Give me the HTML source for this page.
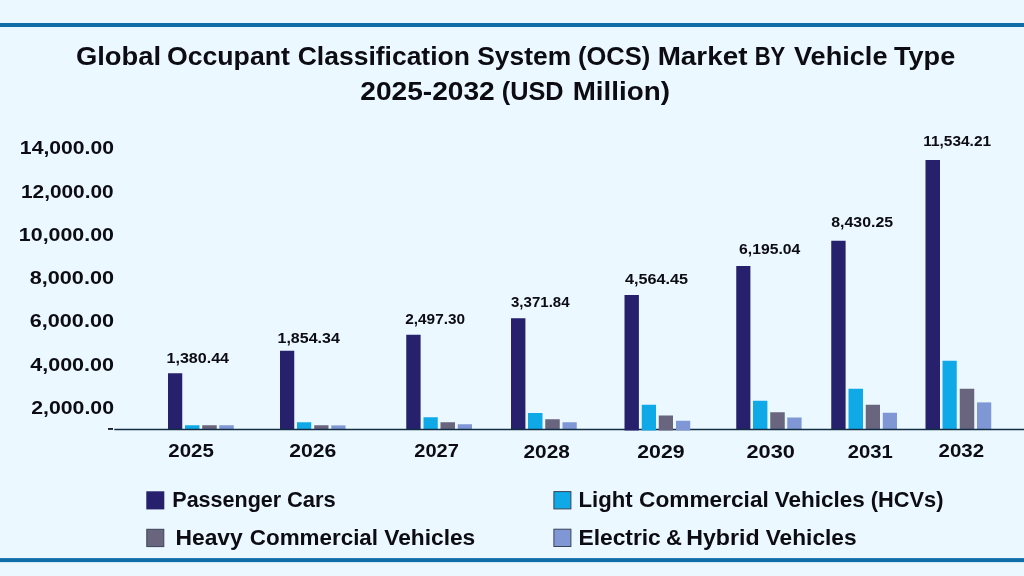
<!DOCTYPE html>
<html lang="en"><head><meta charset="utf-8"><title>OCS Market by Vehicle Type</title>
<style>
html,body{margin:0;padding:0;background:#ebf8ff;}
body{width:1024px;height:576px;overflow:hidden;}
svg{display:block;will-change:transform;}
text{font-family:"Liberation Sans",sans-serif;font-weight:bold;fill:#0c0c12;}
</style></head>
<body>
<svg width="1024" height="576" viewBox="0 0 1024 576">
<rect x="0" y="0" width="1024" height="576" fill="#ebf8ff"/>
<rect x="0" y="23.0" width="1024" height="4" fill="#0f6ea8"/>
<rect x="0" y="558.1" width="1024" height="4" fill="#0f6ea8"/>
<rect x="168.00" y="373.25" width="14.25" height="56.05" fill="#26206d"/>
<rect x="185.00" y="425.25" width="14.50" height="4.05" fill="#10a9e8"/>
<rect x="202.25" y="425.25" width="14.50" height="4.05" fill="#69657e"/>
<rect x="219.25" y="425.25" width="14.50" height="4.05" fill="#7f98d5"/>
<rect x="280.00" y="350.75" width="14.25" height="78.55" fill="#26206d"/>
<rect x="297.00" y="422.25" width="14.25" height="7.05" fill="#10a9e8"/>
<rect x="314.25" y="425.25" width="14.25" height="4.05" fill="#69657e"/>
<rect x="331.25" y="425.40" width="14.25" height="3.90" fill="#7f98d5"/>
<rect x="406.25" y="334.75" width="14.35" height="94.55" fill="#26206d"/>
<rect x="423.50" y="417.25" width="14.25" height="12.05" fill="#10a9e8"/>
<rect x="440.50" y="422.25" width="14.50" height="7.05" fill="#69657e"/>
<rect x="457.75" y="424.25" width="14.25" height="5.05" fill="#7f98d5"/>
<rect x="511.00" y="318.25" width="14.40" height="111.05" fill="#26206d"/>
<rect x="528.00" y="413.00" width="14.50" height="16.30" fill="#10a9e8"/>
<rect x="545.25" y="419.25" width="14.50" height="10.05" fill="#69657e"/>
<rect x="562.50" y="422.25" width="14.25" height="7.05" fill="#7f98d5"/>
<rect x="736.25" y="266.00" width="14.15" height="163.30" fill="#26206d"/>
<rect x="753.00" y="400.75" width="14.40" height="28.55" fill="#10a9e8"/>
<rect x="770.25" y="412.25" width="14.50" height="17.05" fill="#69657e"/>
<rect x="787.25" y="417.50" width="14.35" height="11.80" fill="#7f98d5"/>
<rect x="831.25" y="240.75" width="14.35" height="188.55" fill="#26206d"/>
<rect x="848.50" y="388.75" width="14.50" height="40.55" fill="#10a9e8"/>
<rect x="865.75" y="404.75" width="14.25" height="24.55" fill="#69657e"/>
<rect x="882.75" y="412.75" width="14.25" height="16.55" fill="#7f98d5"/>
<rect x="925.50" y="160.00" width="14.50" height="269.30" fill="#26206d"/>
<rect x="942.50" y="360.75" width="14.25" height="68.55" fill="#10a9e8"/>
<rect x="959.75" y="388.75" width="14.50" height="40.55" fill="#69657e"/>
<rect x="977.00" y="402.40" width="14.25" height="26.90" fill="#7f98d5"/>
<rect x="114.3" y="428.75" width="909.7" height="1.5" fill="#132d44"/>
<rect x="108" y="428.1" width="5" height="1.7" fill="#0c0c12"/>
<rect x="624.50" y="295.00" width="14.40" height="135.50" fill="#26206d"/>
<rect x="641.75" y="404.75" width="14.25" height="25.75" fill="#10a9e8"/>
<rect x="658.75" y="415.50" width="14.25" height="15.00" fill="#69657e"/>
<rect x="676.00" y="420.75" width="14.25" height="9.75" fill="#7f98d5"/>
<rect x="146.3" y="491.3" width="18" height="18.1" fill="#26206d"/>
<rect x="146.80" y="529.30" width="17" height="17.3" fill="#69657e" stroke="#3a4356" stroke-width="1"/>
<rect x="553.90" y="491.60" width="17" height="17.3" fill="#10a9e8" stroke="#3a4356" stroke-width="1"/>
<rect x="553.90" y="529.20" width="17" height="17.3" fill="#7f98d5" stroke="#3a4356" stroke-width="1"/>
<text x="75.96" y="64.50" font-size="26.00" textLength="85.10" lengthAdjust="spacingAndGlyphs">Global</text>
<text x="166.98" y="64.50" font-size="26.00" textLength="122.93" lengthAdjust="spacingAndGlyphs">Occupant</text>
<text x="297.74" y="64.50" font-size="26.00" textLength="172.17" lengthAdjust="spacingAndGlyphs">Classification</text>
<text x="477.25" y="64.50" font-size="26.00" textLength="93.90" lengthAdjust="spacingAndGlyphs">System</text>
<text x="578.03" y="64.50" font-size="26.00" textLength="72.14" lengthAdjust="spacingAndGlyphs">(OCS)</text>
<text x="657.70" y="64.50" font-size="26.00" textLength="89.73" lengthAdjust="spacingAndGlyphs">Market</text>
<text x="754.68" y="64.50" font-size="26.00" textLength="30.67" lengthAdjust="spacingAndGlyphs">BY</text>
<text x="794.00" y="64.50" font-size="26.00" textLength="93.49" lengthAdjust="spacingAndGlyphs">Vehicle</text>
<text x="894.00" y="64.50" font-size="26.00" textLength="61.24" lengthAdjust="spacingAndGlyphs">Type</text>
<text x="360.25" y="100.10" font-size="25.00" textLength="134.52" lengthAdjust="spacingAndGlyphs">2025-2032</text>
<text x="501.74" y="100.10" font-size="25.00" textLength="61.83" lengthAdjust="spacingAndGlyphs">(USD</text>
<text x="572.66" y="100.10" font-size="25.00" textLength="97.26" lengthAdjust="spacingAndGlyphs">Million)</text>
<text x="19.88" y="154.30" font-size="17.90" textLength="94.09" lengthAdjust="spacingAndGlyphs">14,000.00</text>
<text x="20.95" y="197.55" font-size="17.90" textLength="92.77" lengthAdjust="spacingAndGlyphs">12,000.00</text>
<text x="18.87" y="240.80" font-size="17.90" textLength="95.10" lengthAdjust="spacingAndGlyphs">10,000.00</text>
<text x="29.75" y="284.05" font-size="17.90" textLength="84.23" lengthAdjust="spacingAndGlyphs">8,000.00</text>
<text x="29.75" y="327.30" font-size="17.90" textLength="84.23" lengthAdjust="spacingAndGlyphs">6,000.00</text>
<text x="30.25" y="370.55" font-size="17.90" textLength="83.71" lengthAdjust="spacingAndGlyphs">4,000.00</text>
<text x="31.25" y="413.80" font-size="17.90" textLength="82.73" lengthAdjust="spacingAndGlyphs">2,000.00</text>
<text x="166.50" y="363.25" font-size="14.90" textLength="62.53" lengthAdjust="spacingAndGlyphs">1,380.44</text>
<text x="277.50" y="342.50" font-size="14.90" textLength="62.28" lengthAdjust="spacingAndGlyphs">1,854.34</text>
<text x="405.25" y="323.50" font-size="14.90" textLength="59.80" lengthAdjust="spacingAndGlyphs">2,497.30</text>
<text x="511.00" y="306.50" font-size="14.90" textLength="58.55" lengthAdjust="spacingAndGlyphs">3,371.84</text>
<text x="625.00" y="284.25" font-size="14.90" textLength="63.06" lengthAdjust="spacingAndGlyphs">4,564.45</text>
<text x="739.00" y="253.50" font-size="14.90" textLength="61.27" lengthAdjust="spacingAndGlyphs">6,195.04</text>
<text x="831.25" y="227.00" font-size="14.90" textLength="61.81" lengthAdjust="spacingAndGlyphs">8,430.25</text>
<text x="923.25" y="146.25" font-size="14.90" textLength="67.81" lengthAdjust="spacingAndGlyphs">11,534.21</text>
<text x="168.25" y="457.30" font-size="18.90" textLength="45.56" lengthAdjust="spacingAndGlyphs">2025</text>
<text x="289.25" y="457.30" font-size="18.90" textLength="47.09" lengthAdjust="spacingAndGlyphs">2026</text>
<text x="414.25" y="457.30" font-size="18.90" textLength="44.56" lengthAdjust="spacingAndGlyphs">2027</text>
<text x="523.50" y="457.50" font-size="18.90" textLength="46.33" lengthAdjust="spacingAndGlyphs">2028</text>
<text x="637.25" y="457.50" font-size="18.90" textLength="47.34" lengthAdjust="spacingAndGlyphs">2029</text>
<text x="746.50" y="457.50" font-size="18.90" textLength="48.35" lengthAdjust="spacingAndGlyphs">2030</text>
<text x="847.75" y="457.50" font-size="18.90" textLength="45.06" lengthAdjust="spacingAndGlyphs">2031</text>
<text x="938.50" y="456.50" font-size="18.90" textLength="45.57" lengthAdjust="spacingAndGlyphs">2032</text>
<text x="172.27" y="507.00" font-size="21.60" textLength="108.92" lengthAdjust="spacingAndGlyphs">Passenger</text>
<text x="287.00" y="507.00" font-size="21.60" textLength="48.84" lengthAdjust="spacingAndGlyphs">Cars</text>
<text x="175.45" y="545.00" font-size="21.60" textLength="67.33" lengthAdjust="spacingAndGlyphs">Heavy</text>
<text x="249.75" y="545.00" font-size="21.60" textLength="128.31" lengthAdjust="spacingAndGlyphs">Commercial</text>
<text x="384.25" y="545.00" font-size="21.60" textLength="91.03" lengthAdjust="spacingAndGlyphs">Vehicles</text>
<text x="578.48" y="506.70" font-size="21.60" textLength="54.23" lengthAdjust="spacingAndGlyphs">Light</text>
<text x="639.00" y="506.70" font-size="21.60" textLength="129.82" lengthAdjust="spacingAndGlyphs">Commercial</text>
<text x="774.75" y="506.70" font-size="21.60" textLength="90.03" lengthAdjust="spacingAndGlyphs">Vehicles</text>
<text x="870.75" y="506.70" font-size="21.60" textLength="72.72" lengthAdjust="spacingAndGlyphs">(HCVs)</text>
<text x="578.46" y="544.90" font-size="21.60" textLength="82.34" lengthAdjust="spacingAndGlyphs">Electric</text>
<text x="666.00" y="544.90" font-size="21.60" textLength="15.93" lengthAdjust="spacingAndGlyphs">&amp;</text>
<text x="686.19" y="544.90" font-size="21.60" textLength="73.36" lengthAdjust="spacingAndGlyphs">Hybrid</text>
<text x="765.75" y="544.90" font-size="21.60" textLength="90.78" lengthAdjust="spacingAndGlyphs">Vehicles</text>
</svg>
</body></html>
